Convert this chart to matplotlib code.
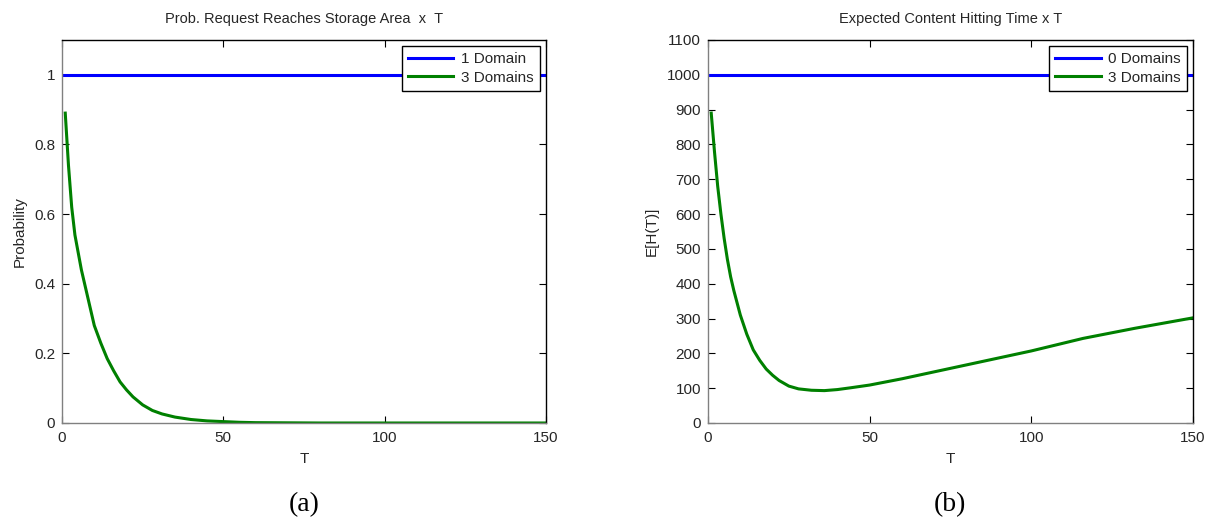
import matplotlib.pyplot as plt

plt.rcParams['font.family'] = ['Liberation Sans', 'DejaVu Sans']

# left panel: probability the request reaches the storage area
T_one = [0, 150]
p_one = [1, 1]
T_prob = [1, 2, 3, 4, 5, 6, 8, 10, 12, 14, 16, 18, 20, 22, 25, 28, 31, 35,
          40, 45, 50, 55, 60, 80, 100, 120, 150]
p_three = [0.89, 0.74, 0.62, 0.54, 0.49, 0.44, 0.36, 0.28, 0.23, 0.185, 0.15,
           0.118, 0.095, 0.075, 0.052, 0.036, 0.026, 0.017, 0.010, 0.006,
           0.004, 0.002, 0.001, 0.0, 0.0, 0.0, 0.0]

# right panel: expected content hitting time
T_zero = [0, 150]
h_zero = [1000, 1000]
T_hit = [1, 2, 3, 4, 5, 6, 7, 8, 10, 12, 14, 16, 18, 20, 22, 25, 28, 32, 36,
         40, 44, 50, 60, 70, 82, 100, 116, 132, 150]
h_three = [890, 780, 680, 600, 530, 470, 420, 380, 310, 255, 210, 180, 155,
           137, 122, 106, 98, 94, 93, 96, 101, 109, 127, 147, 171, 207, 243,
           272, 302]

x_ticks = [0, 50, 100, 150]
prob_ticks = [0, 0.2, 0.4, 0.6, 0.8, 1]
prob_labels = ['0', '0.2', '0.4', '0.6', '0.8', '1']
hit_ticks = list(range(0, 1101, 100))

TXT = '#262626'
BLUE = '#0000ff'
GREEN = '#008000'

fig = plt.figure(figsize=(12.09, 5.18), dpi=100)
ax1 = fig.add_axes([0.0513, 0.1834, 0.4003, 0.7394])
ax2 = fig.add_axes([0.5856, 0.1834, 0.4012, 0.7394])


def style(ax):
    for side in ['left', 'bottom']:
        ax.spines[side].set_color('#808080')
    for side in ['top', 'right']:
        ax.spines[side].set_color('black')
    for s in ax.spines.values():
        s.set_linewidth(1.0)
    ax.tick_params(direction='in', top=True, right=True, length=5,
                   labelsize=11, labelcolor=TXT)
    ax.tick_params(axis='x', pad=6)
    ax.tick_params(axis='y', pad=5)
    ax.set_xlim(0, 150)
    ax.set_xticks(x_ticks)


ax1.plot(T_one, p_one, color=BLUE, lw=2.2, label='1 Domain')
ax1.plot(T_prob, p_three, color=GREEN, lw=2.2, label='3 Domains')
style(ax1)
ax1.set_ylim(0, 1.1)
ax1.set_yticks(prob_ticks, prob_labels)
ax1.set_title('Prob. Request Reaches Storage Area  x  T', fontsize=10.5,
              color=TXT, pad=12)
ax1.set_xlabel('T', fontsize=11, color=TXT, labelpad=5)
ax1.set_ylabel('Probability', fontsize=11, color=TXT, labelpad=5)

ax2.plot(T_zero, h_zero, color=BLUE, lw=2.2, label='0 Domains')
ax2.plot(T_hit, h_three, color=GREEN, lw=2.2, label='3 Domains')
style(ax2)
ax2.set_ylim(0, 1100)
ax2.set_yticks(hit_ticks)
ax2.set_title('Expected Content Hitting Time x T', fontsize=10.5,
              color=TXT, pad=12)
ax2.set_xlabel('T', fontsize=11, color=TXT, labelpad=5)
ax2.set_ylabel('E[H(T)]', fontsize=11, color=TXT, labelpad=6)

for ax in (ax1, ax2):
    leg = ax.legend(loc='upper right', fontsize=11, fancybox=False,
                    framealpha=1, edgecolor='black', handlelength=3.0,
                    borderaxespad=0.4, borderpad=0.4, labelspacing=0.3,
                    handletextpad=0.5)
    leg.get_frame().set_linewidth(1.0)
    for t in leg.get_texts():
        t.set_color(TXT)

fig.text(0.2515, 0.025, '(a)', ha='center', va='center', fontsize=20,
         family='Liberation Serif')
fig.text(0.786, 0.025, '(b)', ha='center', va='center', fontsize=20,
         family='Liberation Serif')

fig.savefig('out.png', dpi=100)
